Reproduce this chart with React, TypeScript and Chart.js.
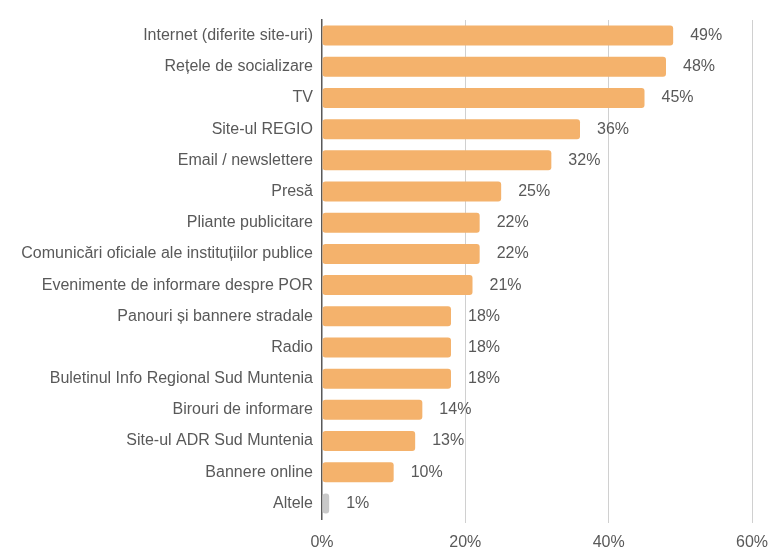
import React, { useEffect, useRef } from "react";
import { Chart, registerables } from "chart.js";

Chart.register(...registerables);

const categories = [
  "Internet (diferite site-uri)",
  "Rețele de socializare",
  "TV",
  "Site-ul REGIO",
  "Email / newslettere",
  "Presă",
  "Pliante publicitare",
  "Comunicări oficiale ale instituțiilor publice",
  "Evenimente de informare despre POR",
  "Panouri și bannere stradale",
  "Radio",
  "Buletinul Info Regional Sud Muntenia",
  "Birouri de informare",
  "Site-ul ADR Sud Muntenia",
  "Bannere online",
  "Altele",
];
const values = [49, 48, 45, 36, 32, 25, 22, 22, 21, 18, 18, 18, 14, 13, 10, 1];
const barColors = [
  "#F4B26C", "#F4B26C", "#F4B26C", "#F4B26C", "#F4B26C", "#F4B26C", "#F4B26C", "#F4B26C",
  "#F4B26C", "#F4B26C", "#F4B26C", "#F4B26C", "#F4B26C", "#F4B26C", "#F4B26C", "#C9C9C9",
];
const xTicks = [0, 20, 40, 60];

const FONT = "'Liberation Sans', Arial, sans-serif";
const TEXT = "#595959";

const valueLabels = {
  id: "valueLabels",
  afterDatasetsDraw(chart: any) {
    const ctx = chart.ctx;
    const meta = chart.getDatasetMeta(0);
    ctx.save();
    ctx.font = `16px ${FONT}`;
    ctx.fillStyle = TEXT;
    ctx.textAlign = "left";
    ctx.textBaseline = "middle";
    meta.data.forEach((bar: any, i: number) => {
      ctx.fillText(values[i] + "%", bar.x + 17, bar.y);
    });
    ctx.restore();
  },
};

export default function App() {
  const ref = useRef<HTMLCanvasElement>(null);
  useEffect(() => {
    document.body.style.margin = "0";
    const chart = new Chart(ref.current!, {
      type: "bar",
      data: {
        labels: categories,
        datasets: [
          {
            data: values,
            backgroundColor: barColors,
            borderRadius: 3,
            borderSkipped: false,
            barPercentage: 0.64,
            categoryPercentage: 1,
          },
        ],
      },
      options: {
        indexAxis: "y",
        animation: false,
        responsive: false,
        maintainAspectRatio: false,
        layout: { padding: { top: 20, right: 17, left: 0, bottom: 0 } },
        plugins: { legend: { display: false }, tooltip: { enabled: false } },
        scales: {
          x: {
            min: 0,
            max: 60,
            afterBuildTicks: (s: any) => {
              s.ticks = xTicks.map((v) => ({ value: v }));
            },
            afterFit: (s: any) => {
              s.height = 28;
              s.paddingRight = 0;
              s.paddingLeft = 0;
            },
            grid: {
              color: (c: any) => (c.tick && c.tick.value === 0 ? "rgba(0,0,0,0)" : "#D0D0D0"),
              lineWidth: 1,
              drawTicks: true,
              tickLength: 4,
            },
            border: { display: false },
            ticks: {
              color: TEXT,
              font: { size: 16, family: FONT },
              padding: 10,
              callback: (v: any) => v + "%",
            },
          },
          y: {
            afterFit: (s: any) => {
              s.width = 322;
            },
            grid: { display: false },
            border: { display: true, color: "#595959", width: 1.5 },
            ticks: {
              color: TEXT,
              font: { size: 16, family: FONT },
              padding: 1,
              autoSkip: false,
            },
          },
        },
      },
      plugins: [valueLabels],
    });
    return () => chart.destroy();
  }, []);
  return <canvas ref={ref} width={769} height={547} style={{ display: "block" }} />;
}
